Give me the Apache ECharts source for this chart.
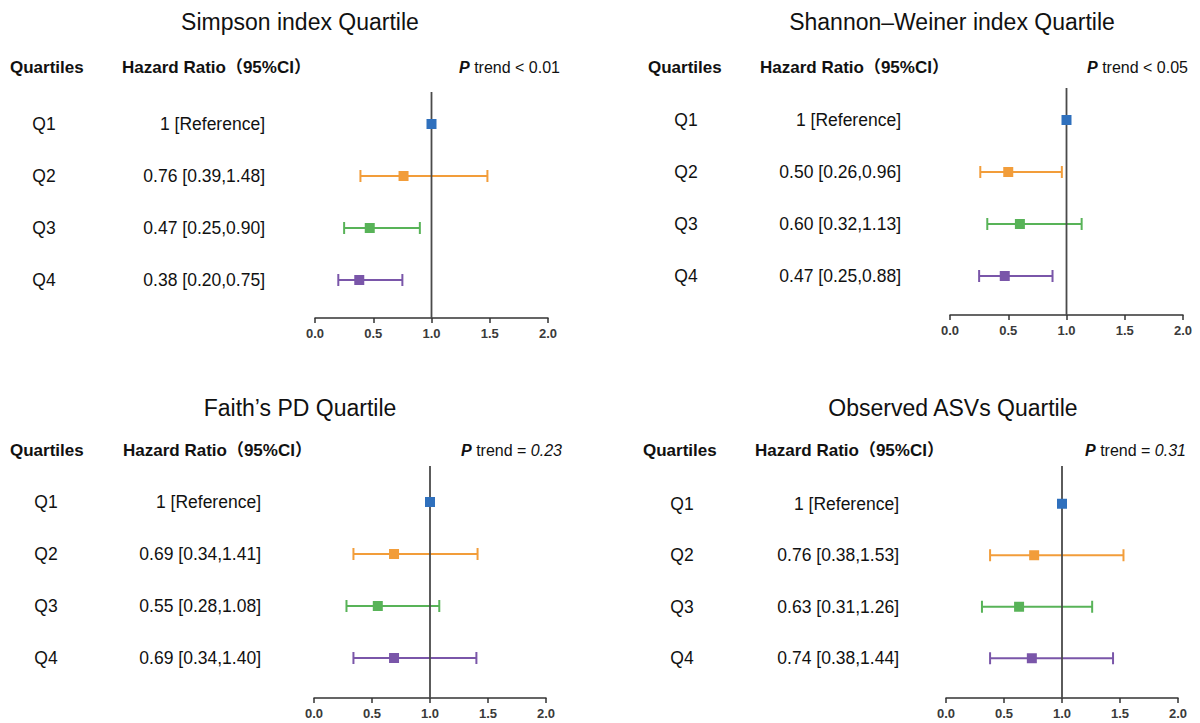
<!DOCTYPE html>
<html>
<head>
<meta charset="utf-8">
<script src="https://cdn.jsdelivr.net/npm/echarts@6/dist/echarts.min.js"></script>
<style>
html,body{margin:0;padding:0;background:#fff;}
#chart{width:1200px;height:723px;}
</style>
</head>
<body>
<div id="chart"></div>
<script>
// ---------- DATA ----------
const quartiles = ['Q1', 'Q2', 'Q3', 'Q4'];
const panelTitles = ['Simpson index Quartile', 'Shannon\u2013Weiner index Quartile', 'Faith\u2019s PD Quartile', 'Observed ASVs Quartile'];
const headerQuartiles = 'Quartiles';
const headerHR = 'Hazard Ratio\uFF0895%CI\uFF09';
const referenceText = '1 [Reference]';

const simpsonHR = [1, 0.76, 0.47, 0.38];
const simpsonLo = [1, 0.39, 0.25, 0.20];
const simpsonHi = [1, 1.48, 0.90, 0.75];

const shannonHR = [1, 0.50, 0.60, 0.47];
const shannonLo = [1, 0.26, 0.32, 0.25];
const shannonHi = [1, 0.96, 1.13, 0.88];

const faithHR = [1, 0.69, 0.55, 0.69];
const faithLo = [1, 0.34, 0.28, 0.34];
const faithHi = [1, 1.41, 1.08, 1.40];

const observedHR = [1, 0.76, 0.63, 0.74];
const observedLo = [1, 0.38, 0.31, 0.38];
const observedHi = [1, 1.53, 1.26, 1.44];

const pTrendOps = ['<', '<', '=', '='];
const pTrendValues = ['0.01', '0.05', '0.23', '0.31'];
const pTrendItalic = [false, false, true, true];

const referenceValue = 1;

// ---------- STYLE / LAYOUT ----------
const palette = ['#2f70bd', '#f29d3a', '#58b358', '#7a56a9'];
const FONT = "'Liberation Sans', Arial, 'Noto Sans CJK SC', sans-serif";
const layout = [
  {gridLeft: 315, gridWidth: 233, gridTop: 98,  gridHeight: 208, axisOffset: 12, vTop: 6,
   titleX: 300, titleY: 22, headY: 67, quartX: 10, hrHeadX: 122, pRight: 560, qCenter: 44, hrRight: 265},
  {gridLeft: 950, gridWidth: 233, gridTop: 94,  gridHeight: 208, axisOffset: 13, vTop: 6,
   titleX: 952, titleY: 22, headY: 67, quartX: 648, hrHeadX: 760, pRight: 1188, qCenter: 686, hrRight: 901},
  {gridLeft: 314, gridWidth: 232, gridTop: 476, gridHeight: 208, axisOffset: 14, vTop: 10,
   titleX: 300, titleY: 408, headY: 450, quartX: 10, hrHeadX: 123, pRight: 562, qCenter: 46, hrRight: 261},
  {gridLeft: 946, gridWidth: 232, gridTop: 478, gridHeight: 206, axisOffset: 14, vTop: 12,
   titleX: 953, titleY: 408, headY: 450, quartX: 643, hrHeadX: 755, pRight: 1186, qCenter: 682, hrRight: 899}
];

const panelData = [
  {hr: simpsonHR, lo: simpsonLo, hi: simpsonHi},
  {hr: shannonHR, lo: shannonLo, hi: shannonHi},
  {hr: faithHR, lo: faithLo, hi: faithHi},
  {hr: observedHR, lo: observedLo, hi: observedHi}
];

function hrText(d, i) {
  if (i === 0) return referenceText;
  return d.hr[i].toFixed(2) + ' [' + d.lo[i].toFixed(2) + ',' + d.hi[i].toFixed(2) + ']';
}

const grids = [], xAxes = [], yAxes = [], series = [], graphics = [];

panelData.forEach((d, p) => {
  const L = layout[p];
  const qW = 40;
  const margin = L.gridLeft - L.hrRight;
  const hW = L.hrRight - L.qCenter - qW / 2;
  const texts = quartiles.map((q, i) => hrText(d, i));

  grids.push({left: L.gridLeft, top: L.gridTop, width: L.gridWidth, height: L.gridHeight, containLabel: false});
  xAxes.push({
    type: 'value', gridIndex: p, min: 0, max: 2, interval: 0.5, offset: L.axisOffset,
    axisLine: {show: true, lineStyle: {color: '#333', width: 1.5}},
    axisTick: {show: true, length: 5, lineStyle: {color: '#333', width: 1.5}},
    axisLabel: {
      show: true, margin: 9, hideOverlap: false,
      formatter: v => '{t|' + v.toFixed(1) + '}',
      rich: {t: {fontSize: 13, fontWeight: 'bold', color: '#3a3a3a', fontFamily: FONT}}
    },
    splitLine: {show: false}
  });
  yAxes.push({
    type: 'category', gridIndex: p, data: quartiles, inverse: true,
    axisLine: {show: false}, axisTick: {show: false}, splitLine: {show: false},
    axisLabel: {
      margin: margin,
      formatter: (v, i) => '{q|' + v + '}{h|' + texts[i] + '}',
      rich: {
        q: {width: qW, align: 'center', fontSize: 17.5, color: '#111', fontFamily: FONT},
        h: {width: hW, align: 'right', fontSize: 17.5, color: '#111', fontFamily: FONT}
      }
    }
  });

  // error bars
  const barData = [];
  quartiles.forEach((q, i) => {
    if (d.lo[i] !== d.hi[i]) barData.push([d.lo[i], d.hi[i], i]);
  });
  series.push({
    type: 'custom', xAxisIndex: p, yAxisIndex: p, z: 2,
    encode: {x: [0, 1], y: 2},
    data: barData,
    renderItem: (params, api) => {
      const y = api.value(2);
      const a = api.coord([api.value(0), y]);
      const b = api.coord([api.value(1), y]);
      const c = palette[y];
      const cap = 6;
      const st = {stroke: c, lineWidth: 2};
      return {type: 'group', children: [
        {type: 'line', shape: {x1: a[0], y1: a[1], x2: b[0], y2: b[1]}, style: st},
        {type: 'line', shape: {x1: a[0], y1: a[1] - cap, x2: a[0], y2: a[1] + cap}, style: st},
        {type: 'line', shape: {x1: b[0], y1: b[1] - cap, x2: b[0], y2: b[1] + cap}, style: st}
      ]};
    }
  });

  // reference vertical line
  series.push({
    type: 'custom', xAxisIndex: p, yAxisIndex: p, z: 3,
    encode: {x: 0, y: 1},
    data: [[referenceValue, 0]],
    renderItem: (params, api) => {
      const cs = params.coordSys;
      const x = api.coord([api.value(0), 0])[0];
      return {type: 'line', shape: {x1: x, y1: cs.y - L.vTop, x2: x, y2: cs.y + cs.height + L.axisOffset},
              style: {stroke: '#4a4a4a', lineWidth: 1.8}};
    }
  });

  // point estimates
  series.push({
    type: 'scatter', xAxisIndex: p, yAxisIndex: p, z: 4,
    symbol: 'rect', symbolSize: 10,
    itemStyle: {opacity: 1},
    emphasis: {disabled: true},
    data: quartiles.map((q, i) => ({value: [d.hr[i], i], itemStyle: {color: palette[i], opacity: 1}}))
  });

  // titles and headers
  graphics.push({type: 'text', style: {text: panelTitles[p], x: L.titleX, y: L.titleY, textAlign: 'center', textVerticalAlign: 'middle',
    font: 'normal 23px ' + FONT, fill: '#111'}});
  graphics.push({type: 'text', style: {text: headerQuartiles, x: L.quartX, y: L.headY, textAlign: 'left', textVerticalAlign: 'middle',
    font: 'bold 17px ' + FONT, fill: '#111'}});
  graphics.push({type: 'text', style: {text: headerHR, x: L.hrHeadX, y: L.headY, textAlign: 'left', textVerticalAlign: 'middle',
    font: 'bold 17px ' + FONT, fill: '#111'}});
  const valTag = pTrendItalic[p] ? 'vi' : 'v';
  graphics.push({type: 'text', style: {
    text: '{pb|P}{v| trend ' + pTrendOps[p] + ' }{' + valTag + '|' + pTrendValues[p] + '}',
    x: L.pRight, y: L.headY, textAlign: 'right', textVerticalAlign: 'middle',
    font: 'normal 16px ' + FONT, fill: '#111',
    rich: {
      pb: {fontWeight: 'bold', fontStyle: 'italic', fontSize: 16, fontFamily: FONT, fill: '#111'},
      v: {fontSize: 16, fontFamily: FONT, fill: '#111'},
      vi: {fontSize: 16, fontStyle: 'italic', fontFamily: FONT, fill: '#111'}
    }
  }});
});

const chart = echarts.init(document.getElementById('chart'), null, {renderer: 'svg'});
chart.setOption({
  backgroundColor: '#fff',
  animation: false,
  grid: grids,
  xAxis: xAxes,
  yAxis: yAxes,
  series: series,
  graphic: graphics
});
</script>
</body>
</html>
